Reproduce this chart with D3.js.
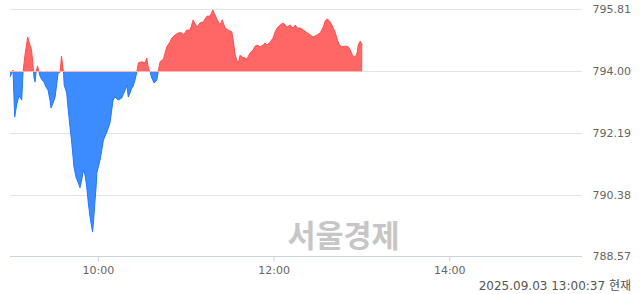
<!DOCTYPE html>
<html><head><meta charset="utf-8">
<script src="https://cdn.jsdelivr.net/npm/d3@7"></script>
<style>body{margin:0;background:#fff;}svg{display:block;}</style>
</head><body>
<svg id="c" width="640" height="294"></svg>
<script>
// minutes after 09:00
const minutes = [0,1,2.05,3.2,4.6,6.15,7.2,8,8.9,10.25,12.1,13,13.7,14.7,15.7,16.4,17.1,17.8,18.8,19.8,20.5,21.9,23.2,24.6,26,27.3,28,29.4,30.8,32.1,32.8,34.2,35.2,35.9,36.6,37,38.7,39.8,41,42.2,43.7,45.1,46.7,47.8,49,50.1,51.3,52.4,53.5,54.7,56.4,57.1,58.1,58.8,59.3,60.3,61.5,62.7,63.8,66.1,68.3,70.4,71.8,73.8,76.3,78.6,79.8,80.8,82,83.2,84.1,85.4,86.6,87.7,90,92.3,93.4,94.5,95.7,96.8,98.4,100.3,101.3,102.5,104.8,105.9,107.1,109.3,110.5,112.8,115,117.3,118.4,120.8,123,125.1,126.4,127.8,129.8,131.9,134.6,136.7,138.5,140.1,141.5,143.5,144.9,146.9,149,151.5,152.4,153.8,154.9,156,157.2,158.5,160.6,161.8,164,166.1,167.4,168.8,170.9,172.9,174.2,175.6,177.7,179.7,181.1,182.5,184.5,186.6,187.9,189.3,191.3,193.4,194.8,196.2,198.2,200.3,203,205,207.1,209.8,211.9,214,215.3,216.7,218.7,220.8,222.2,223.6,225,227,229,231,232.4,233.8,235.2,236.6,237.2,237.8,239.2,240.6];
const prices = [793.83,793.91,794.03,792.65,793.03,793.27,793.21,793.15,793.97,794.47,795.00,794.85,794.76,794.62,794.18,793.80,793.68,793.97,794.15,793.97,793.85,793.74,793.68,793.53,793.44,793.15,792.92,793.06,793.24,793.68,793.94,793.97,794.44,794.18,793.94,793.59,793.36,792.86,792.36,791.89,791.19,790.89,790.72,790.58,790.81,791.10,790.95,790.60,790.13,789.72,789.28,789.63,790.22,790.60,791.01,791.19,791.39,791.69,791.98,792.21,792.48,793.15,793.24,793.15,793.21,793.44,793.59,793.24,793.36,793.50,793.56,793.74,793.97,794.24,794.27,794.24,794.38,794.09,793.97,793.80,793.65,793.74,794.00,794.27,794.35,794.53,794.71,794.85,794.97,795.06,795.12,795.12,795.06,795.20,795.20,795.50,795.38,795.29,795.41,795.44,795.61,795.61,795.79,795.64,795.50,795.35,795.50,795.26,795.20,795.15,794.91,794.47,794.32,794.24,794.47,794.41,794.38,794.35,794.53,794.62,794.73,794.76,794.71,794.76,794.82,794.76,794.85,794.97,795.15,795.26,795.35,795.41,795.35,795.29,795.35,795.26,795.35,795.26,795.26,795.20,795.12,795.06,795.00,795.06,795.12,795.29,795.47,795.53,795.44,795.26,795.12,794.91,794.76,794.71,794.73,794.71,794.62,794.47,794.41,794.47,794.56,794.76,794.88,794.76];
const baseValue = 794.00;
const yTicks = [788.57,790.38,792.19,794.00,795.81];
const xTickLabels = ["10:00","12:00","14:00"];
const watermark = "서울경제";
const stamp = "2025.09.03 13:00:37 현재";

const data = minutes.map((m,i)=>({t:new Date(2025,8,3,9,0,0,0).getTime()+m*60000, v:prices[i]}));
const svg = d3.select("#c");
const L=10, R=581, T=9.3, B=256.3;
const x = d3.scaleTime().domain([new Date(2025,8,3,9,0), new Date(2025,8,3,15,30)]).range([L,R]);
const y = d3.scaleLinear().domain([yTicks[0], yTicks[yTicks.length-1]]).range([B,T]);

// gridlines
svg.append("g").selectAll("line").data(yTicks.slice(1)).join("line")
  .attr("x1",L).attr("x2",R+1).attr("y1",d=>Math.round(y(d))+0.5).attr("y2",d=>Math.round(y(d))+0.5)
  .attr("stroke","#e3e3e3").attr("stroke-width",1);

// watermark
svg.append("text").attr("x",343.5).attr("y",246.5).attr("text-anchor","middle")
  .attr("font-family","'Noto Sans CJK KR'").attr("font-weight","bold").attr("font-size",30.5)
  .attr("fill","#c6c6c6").text(watermark);

const y0 = y(baseValue);
const defs = svg.append("defs");
defs.append("clipPath").attr("id","up").append("rect").attr("x",0).attr("y",0).attr("width",640).attr("height",y0);
defs.append("clipPath").attr("id","dn").append("rect").attr("x",0).attr("y",y0).attr("width",640).attr("height",300);

const area = d3.area().x(d=>x(d.t)).y0(y0).y1(d=>y(d.v));
const line = d3.line().x(d=>x(d.t)).y(d=>y(d.v));

svg.append("path").datum(data).attr("d",area).attr("fill","#ff6666").attr("clip-path","url(#up)");
svg.append("path").datum(data).attr("d",area).attr("fill","#3d8cff").attr("clip-path","url(#dn)");
svg.append("path").datum(data).attr("d",line).attr("fill","none").attr("stroke","#ff4f4f").attr("stroke-width",1).attr("clip-path","url(#up)");
svg.append("path").datum(data).attr("d",line).attr("fill","none").attr("stroke","#1f78ff").attr("stroke-width",1).attr("clip-path","url(#dn)");
// baseline highlight under data
svg.append("line").attr("x1",x(data[0].t)).attr("x2",x(data[data.length-1].t))
  .attr("y1",Math.round(y0)+0.5).attr("y2",Math.round(y0)+0.5).attr("stroke","#ffb3b3").attr("stroke-width",1);

// x axis
const tickTimes = xTickLabels.map(s=>{const [h,m]=s.split(":").map(Number);return new Date(2025,8,3,h,m);});
const xAxis = d3.axisBottom(x).tickValues(tickTimes).tickFormat((d,i)=>xTickLabels[i]).tickSize(5).tickSizeOuter(0);
const gx = svg.append("g").attr("transform",`translate(0,${Math.round(B)+0.5})`).call(xAxis);
gx.select(".domain").attr("stroke","#c9d3e3").attr("d",`M${L},0H${R+1}`);
gx.selectAll(".tick line").attr("stroke","#c9d3e3");
gx.selectAll(".tick text").attr("fill","#666").attr("font-family","'DejaVu Sans'").attr("font-size",11).attr("dy","0.9em");

// y labels
svg.append("g").selectAll("text").data(yTicks).join("text")
  .attr("x",631).attr("y",d=>y(d)+4).attr("text-anchor","end")
  .attr("font-family","'DejaVu Sans'").attr("font-size",11).attr("fill","#666")
  .text(d=>d.toFixed(2));

svg.append("text").attr("x",631).attr("y",290).attr("text-anchor","end")
  .attr("font-family","'DejaVu Sans', 'Noto Sans CJK KR'").attr("font-size",12).attr("fill","#555").text(stamp);
</script>
</body></html>
